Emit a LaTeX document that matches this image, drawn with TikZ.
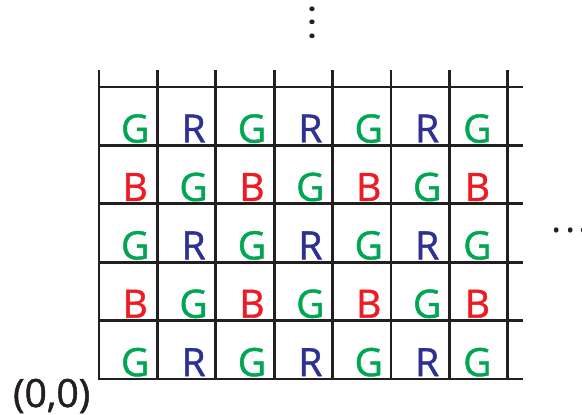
\documentclass[tikz,border=0pt]{standalone}
\usepackage{fontspec}
\setmainfont{Open Sans}
\newfontfamily\pixfont{Open Sans}[FakeBold=1.2]
\newfontfamily\dotsfont{Open Sans}[LetterSpace=8]
\definecolor{pixG}{RGB}{0,166,81}
\definecolor{pixR}{RGB}{46,49,146}
\definecolor{pixB}{RGB}{237,28,36}
\definecolor{ink}{RGB}{35,31,32}

\begin{document}
\begin{tikzpicture}[line cap=rect,line join=miter,x=1.0cm,y=1.0cm,
	gridline/.style={line width=1.3pt,color=ink},
	pix/.style={anchor=base,inner sep=0pt,font=\pixfont\fontsize{19}{19}\selectfont},
	dotsbox/.style={inner sep=0pt,text=ink,font=\dotsfont\fontsize{19}{19}\selectfont}]
	\useasboundingbox (-1.695,-0.616) rectangle (8.271,6.490);
	% sensor grid
	\foreach \i in {0,...,7}
		\draw [gridline] (\i,0) -- (\i,5.26);
	\foreach \j in {0,...,5}
		\draw [gridline] (0,\j) -- (7.24,\j);
	% colour filter letters
	\foreach \y in {0,...,4}
	\foreach \x in {0,...,6} {
		\pgfmathtruncatemacro{\sumodd}{mod(\x+\y,2)}
		\pgfmathtruncatemacro{\rowodd}{mod(\y,2)}
		\pgfmathsetmacro{\dx}{\x==6 ? 0.48 : 0.62}
		\ifnum\sumodd=0 \def\ch{G}\else\ifnum\rowodd=0 \def\ch{R}\else\def\ch{B}\fi\fi
		\node [pix,text=pix\ch] (p-\x-\y) at (\x+\dx,\y+0.05) {\ch};
	}
	\node [pix,text=ink] (origin) at (-0.81,-0.48) {(0,0)};
	\node [dotsbox,rotate=90] (vdots) at (3.65,6.10) {...};
	\node [dotsbox] (hdots) at (8.07,2.55) {...};
\end{tikzpicture}
\end{document}
